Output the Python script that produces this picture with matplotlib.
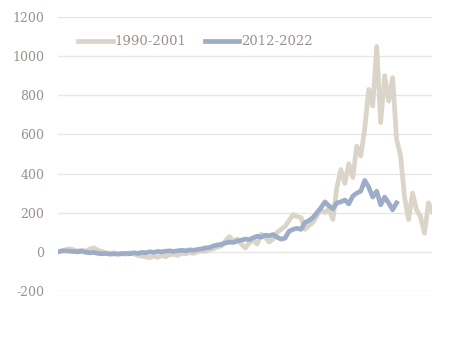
import numpy as np
import matplotlib.pyplot as plt

# cumulative % move, sampled at equal steps from the start of each period
dotcom_1990_2001 = [
    0, 5, 12, 15, 10, 5, 8, 3, 15, 20,
    8, 2, -5, -8, -5, -10, -8, -12, -5, -10,
    -18, -22, -25, -30, -22, -28, -18, -25, -15, -12,
    -18, -8, -10, -3, -8, 0, 5, 2, 12, 15,
    25, 30, 55, 78, 55, 65, 40, 20, 45, 60,
    40, 90, 75, 50, 65, 100, 115, 130, 160, 190,
    180, 175, 115, 135, 150, 185, 215, 200, 220, 165,
    330, 420, 350, 450, 380, 540, 490, 630, 830, 745,
    1050, 660, 900, 770, 890, 575, 490, 280, 165, 300,
    215, 180, 95, 250, 205,
]
recent_2012_2022 = [
    0, 5, 5, 3, 2, 0, 3, -2, -5, -3,
    -8, -10, -8, -12, -10, -12, -10, -8, -10, -5,
    -8, -3, -5, 0, -3, 2, 0, 3, 5, 2,
    5, 8, 5, 10, 8, 12, 15, 20, 22, 30,
    35, 38, 45, 50, 48, 55, 60, 65, 62, 72,
    80, 75, 85, 82, 88, 75, 65, 70, 105, 115,
    120, 115, 150, 160, 175, 200, 225, 255, 235, 220,
    250, 255, 265, 245, 285, 300, 310, 365, 330, 280,
    310, 240, 280, 250, 215, 250,
]
series_labels = ['1990-2001', '2012-2022']
y_ticks = [-200, 0, 200, 400, 600, 800, 1000, 1200]

text_color = '#9a918b'
colors = ['#dbd4c8', '#9dadc8']

plt.rcParams['font.family'] = ['DejaVu Serif']

fig = plt.figure(figsize=(4.5, 3.46), dpi=100)
ax = fig.add_axes([0.129, 0.159, 0.832, 0.792])

ax.plot(np.arange(len(dotcom_1990_2001)), dotcom_1990_2001,
        color=colors[0], lw=3.4, solid_joinstyle='round', label=series_labels[0])
ax.plot(np.arange(len(recent_2012_2022)), recent_2012_2022,
        color=colors[1], lw=3.4, solid_joinstyle='round', label=series_labels[1])

ax.set_ylim(-200, 1200)
ax.set_xlim(0, len(dotcom_1990_2001) - 1)
ax.set_yticks(y_ticks)
ax.set_yticklabels([str(v) for v in y_ticks])
ax.set_xticks([])
ax.grid(axis='y', color='#e6e6e6', lw=1)
ax.set_axisbelow(True)
for s in ax.spines.values():
    s.set_visible(False)
ax.tick_params(axis='y', length=0, pad=10, labelsize=9, labelcolor=text_color)

leg = ax.legend(loc='center left', bbox_to_anchor=(0.04, 0.909), ncol=2,
                frameon=False, fontsize=9.5, handlelength=2.6,
                handletextpad=0.15, columnspacing=1.4, borderaxespad=0)
for t in leg.get_texts():
    t.set_color(text_color)

fig.savefig('out.png', dpi=100)
